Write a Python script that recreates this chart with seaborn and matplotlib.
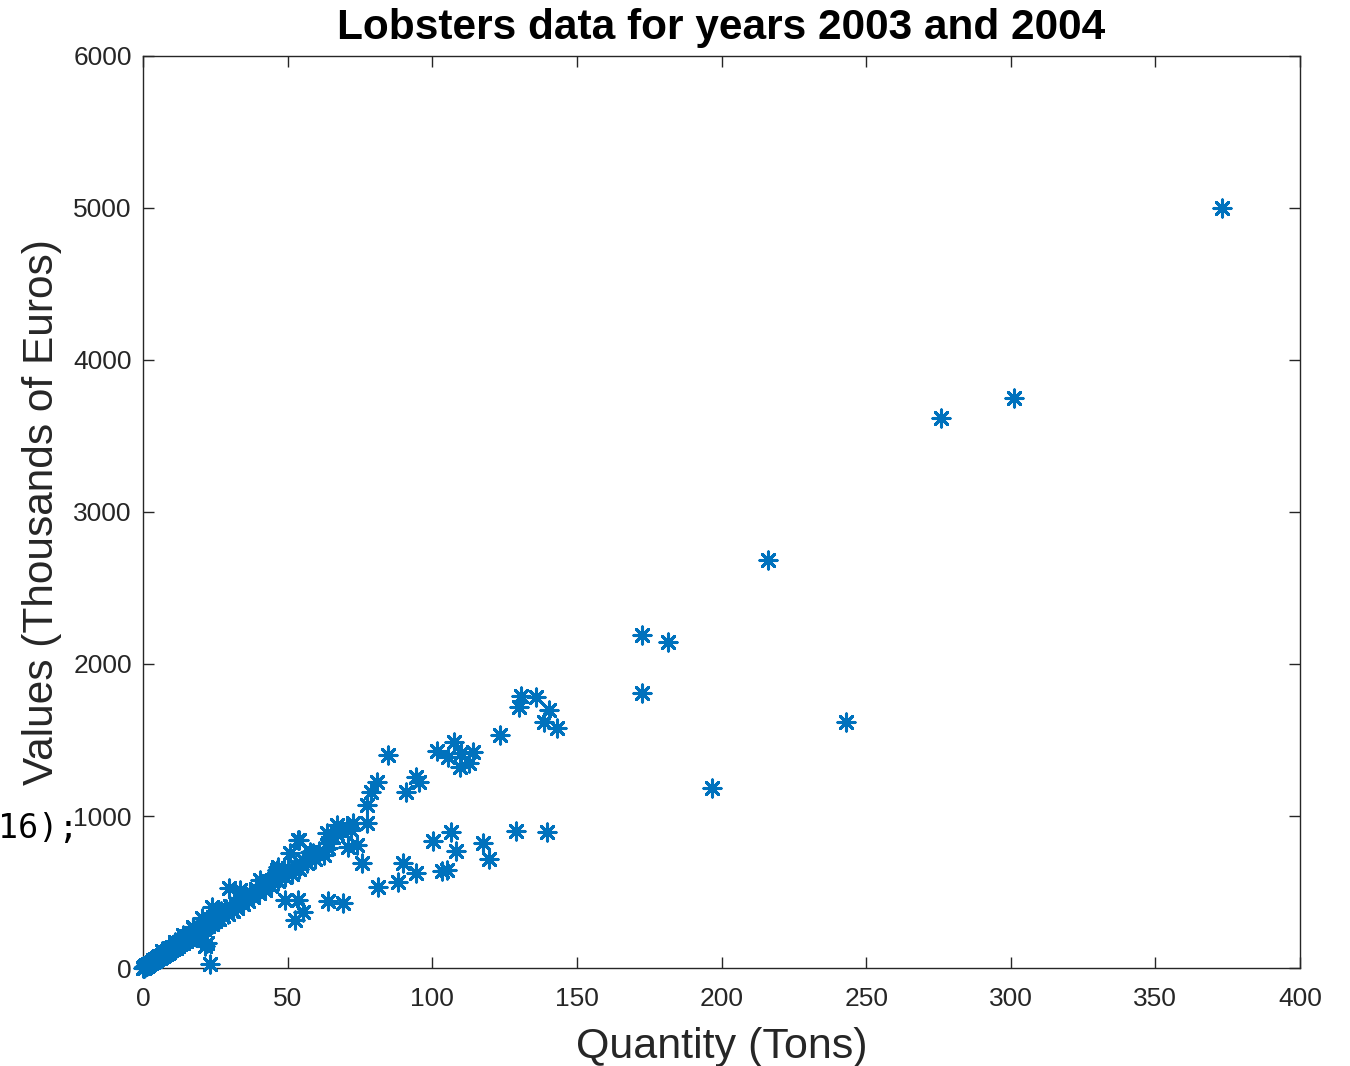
import numpy as np
import pandas as pd
import matplotlib
matplotlib.use("Agg")
import matplotlib.pyplot as plt
import seaborn as sns

# Quantity landed (tons) and value (thousands of euros), 2003-2004
quantity_tons = [
    0.1, 0.2, 0.3, 0.3, 0.4, 0.5, 0.6, 0.7, 0.8, 0.9, 1.0, 1.1, 1.2, 1.4, 1.5, 1.6,
    1.8, 1.9, 2.0, 2.2, 2.3, 2.5, 2.6, 2.8, 3.0, 3.1, 3.3, 3.5, 3.6, 3.8, 4.0, 4.1,
    4.3, 4.5, 4.7, 4.9, 5.1, 5.3, 5.5, 5.8, 6.0, 6.2, 6.5, 6.8, 7.0, 7.3, 7.6, 7.9,
    8.2, 8.5, 8.8, 9.1, 9.4, 9.8, 10.1, 10.5, 10.9, 11.3, 11.7, 12.1, 12.5, 12.9,
    13.4, 13.8, 14.3, 14.7, 15.2, 15.7, 16.2, 16.7, 17.2, 17.8, 18.3, 18.9, 19.4,
    20.0, 20.6, 21.2, 21.8, 22.4, 23.0, 23.7, 24.3, 25.0, 25.7, 26.4, 27.1, 27.8,
    28.6, 29.4, 30.2, 31.0, 31.8, 32.6, 33.5, 34.4, 35.3, 36.2, 37.1, 38.1, 39.1,
    40.1, 41.1, 42.2, 43.3, 44.4, 45.5, 46.6, 47.8, 49.0, 50.2, 51.4, 52.7, 54.0,
    55.3, 56.7, 58.1, 59.5, 61.0, 62.5, 64.0, 65.6, 67.2, 68.8, 70.4, 72.0,
    6.5, 11.0, 14.0, 17.3, 20.5, 23.7, 26.0, 29.8, 33.5, 40.4, 46.2, 46.8, 50.8,
    53.7, 54.0, 57.7, 58.9, 63.5, 64.1, 67.0, 71.0, 72.7, 74.1, 77.3,
    21.4, 22.0, 23.2, 49.1, 52.6, 53.7, 55.4, 64.1, 69.0, 75.8, 81.2, 88.1, 90.0,
    94.3, 103.3, 105.0, 100.4, 106.4, 108.1, 117.7, 119.7, 128.8, 139.6,
    77.3, 78.7, 81.0, 84.8, 90.8, 94.3, 95.4, 101.5, 105.6, 107.5, 109.6, 109.8,
    112.7, 114.2, 123.5, 130.0, 130.6, 135.8, 138.7, 140.5, 143.2,
    172.5, 172.5, 181.5, 196.7, 216.1, 243.0, 275.9, 301.1, 373.0,
]
value_keur = [
    1, 2, 3, 5, 4, 7, 6, 9, 11, 10, 14, 12, 17, 16, 21, 19,
    24, 22, 28, 26, 33, 30, 36, 34, 41, 37, 45, 42, 50, 47, 55, 49,
    60, 54, 64, 59, 70, 63, 76, 68, 82, 74, 88, 80, 96, 86, 104, 93,
    110, 100, 121, 108, 130, 117, 138, 126, 150, 134, 160, 146, 172, 155,
    185, 167, 198, 178, 212, 190, 226, 203, 262, 214, 248, 232, 270,
    244, 290, 258, 305, 276, 320, 291, 336, 308, 355, 322, 372, 342,
    390, 358, 410, 378, 430, 398, 460, 420, 478, 440, 500, 465, 520,
    492, 545, 515, 570, 540, 600, 575, 625, 600, 655, 620, 680, 650,
    710, 690, 740, 720, 770, 745, 820, 860, 880, 900, 925, 905,
    110, 170, 215, 270, 330, 400, 380, 524, 513, 579, 645, 666, 755,
    842, 842, 765, 755, 886, 788, 941, 798, 952, 809, 952,
    145, 162, 26, 447, 316, 447, 370, 441, 425, 693, 535, 568, 689,
    623, 640, 645, 838, 897, 770, 820, 715, 903, 893,
    1072, 1160, 1222, 1401, 1160, 1254, 1226, 1430, 1386, 1485, 1320, 1412,
    1347, 1419, 1533, 1715, 1791, 1783, 1616, 1699, 1577,
    2191, 1809, 2145, 1184, 2684, 1618, 3618, 3750, 5000,
]

x_ticks = [0, 50, 100, 150, 200, 250, 300, 350, 400]
y_ticks = [0, 1000, 2000, 3000, 4000, 5000, 6000]

df = pd.DataFrame({"Quantity": quantity_tons, "Value": value_keur})

sns.set_theme(style="white")
plt.rcParams["font.family"] = ["Liberation Sans", "DejaVu Sans"]

fig = plt.figure(figsize=(13.5, 10.66), dpi=100)
ax = fig.add_axes([143 / 1350, 1 - 968 / 1066, (1300 - 143) / 1350, (968 - 56) / 1066])

sns.scatterplot(
    data=df, x="Quantity", y="Value", ax=ax,
    marker=(8, 2, 0), s=150, color="#0072BD", linewidth=2.2,
    legend=False, clip_on=False, zorder=3,
)

ax.set_xlim(0, 400)
ax.set_ylim(0, 6000)
ax.set_xticks(x_ticks)
ax.set_yticks(y_ticks)
ax.set_xticklabels([str(v) for v in x_ticks])
ax.set_yticklabels([str(v) for v in y_ticks])

dark = "#262626"
for side in ["top", "right", "bottom", "left"]:
    ax.spines[side].set_visible(True)
    ax.spines[side].set_color(dark)
    ax.spines[side].set_linewidth(1.0)

ax.tick_params(axis="both", which="both", direction="in", length=8, width=1.0,
               color=dark, labelcolor=dark, labelsize=19,
               top=True, right=True, bottom=True, left=True)
ax.tick_params(axis="x", pad=14)
ax.tick_params(axis="y", pad=8)

ax.set_xlabel("Quantity (Tons)", fontsize=31, color=dark, labelpad=11)
ax.set_ylabel("Values (Thousands of Euros)", fontsize=30.5, color=dark, labelpad=8)
ax.set_title("Lobsters data for years 2003 and 2004", fontsize=30.5,
             fontweight="bold", color="black", pad=12)

fig.text(78 / 1350, 1 - 838 / 1066, "16);", family="DejaVu Sans Mono",
         fontsize=24, color="black", ha="right", va="baseline")

fig.savefig("out.png", dpi=100)
